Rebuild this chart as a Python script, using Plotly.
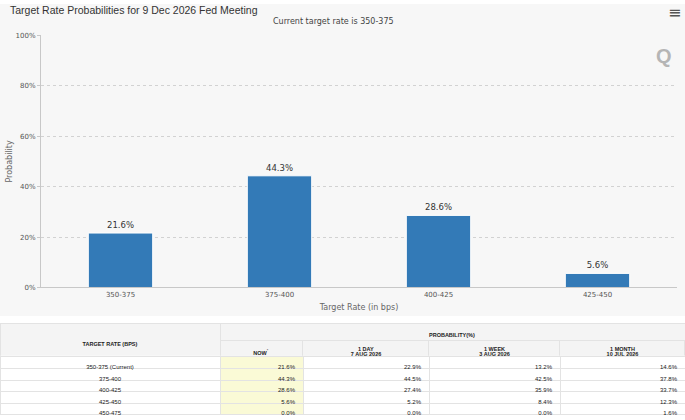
"""
Target rate probabilities chart with the probability table below it.
"""
import plotly.graph_objects as go

W, H = 685, 420

# Chart data
rates = ['350-375', '375-400', '400-425', '425-450']
probs = [21.6, 44.3, 28.6, 5.6]
y_ticks = [0, 20, 40, 60, 80, 100]

# Table data
tbl_rates = ['350-375 (Current)', '375-400', '400-425', '425-450', '450-475']
now_vals = ['21.6%', '44.3%', '28.6%', '5.6%', '0.0%']
day_vals = ['22.9%', '44.5%', '27.4%', '5.2%', '0.0%']
week_vals = ['13.2%', '42.5%', '35.9%', '8.4%', '0.0%']
month_vals = ['14.6%', '37.8%', '33.7%', '12.3%', '1.6%']
head_periods = ['1 DAY', '1 WEEK', '1 MONTH']
head_dates = ['7 AUG 2026', '3 AUG 2026', '10 JUL 2026']
col_widths = [220, 83, 126, 131, 125]

blue = 'rgb(51,122,183)'
hdr_fill = '#f4f4f4'
grid_line = '#e3e3e3'
clear = 'rgba(0,0,0,0)'
tfont = 'Liberation Sans'
row_h = 11.8


def px_x(v):
    return v / W


def px_y(v):
    # pixel from top -> paper fraction from bottom
    return (H - v) / H


def nb(s):
    # no-break spaces keep plotly tables from wrapping / growing rows
    return s.replace(' ', '\u00a0')


def hb(s):
    return '<b>' + nb(s) + '</b>'


def text_table(x0, x1, top, bottom, values, widths=None, height=17,
               align='center'):
    return go.Table(
        domain=dict(x=[px_x(x0), px_x(x1)], y=[px_y(bottom), px_y(top)]),
        columnwidth=widths,
        header=dict(values=values, fill_color=clear, line_color=clear,
                    height=height, align=align,
                    font=dict(size=5.5, color='#222', family=tfont)),
        cells=dict(values=[[] for _ in values], height=0))


fig = go.Figure()

fig.add_trace(go.Bar(x=rates, y=probs, width=0.405,
    marker=dict(color=blue, line=dict(color='white', width=1)),
    text=[str(p) + '%' for p in probs], textposition='outside',
    textfont=dict(size=8.5, color='#333', family='DejaVu Sans'),
    cliponaxis=False, showlegend=False))

# header boxes
fig.add_trace(go.Table(
    domain=dict(x=[0, 1], y=[px_y(359), px_y(326)]),
    columnwidth=[220, 465],
    header=dict(values=[nb(' '), nb(' ')], fill_color=hdr_fill,
                line_color=grid_line, height=33),
    cells=dict(values=[[], []], height=0)))
fig.add_trace(go.Table(
    domain=dict(x=[px_x(220), 1], y=[px_y(359), px_y(343)]),
    columnwidth=col_widths[1:],
    header=dict(values=[nb(' ')] * 4, fill_color=hdr_fill,
                line_color=grid_line, height=16),
    cells=dict(values=[[] for _ in range(4)], height=0)))

# header texts
fig.add_trace(text_table(0, 220, 335, 359, [hb('TARGET RATE (BPS)')]))
fig.add_trace(text_table(220, 685, 326, 343, [hb('PROBABILITY(%)')]))
fig.add_trace(text_table(220, 303, 344, 359, [hb('NOW') + '<sup>*</sup>']))
fig.add_trace(text_table(303, 685, 340, 357,
                         [hb(p) for p in head_periods], widths=col_widths[2:]))
fig.add_trace(text_table(303, 685, 346, 363,
                         [hb(d) for d in head_dates], widths=col_widths[2:]))

# body, one table strip per row, bottom row first so text stays on top
body_cols = [[nb(v) for v in tbl_rates], now_vals, day_vals, week_vals,
             month_vals]
body_fill = ['white', '#fafad6', 'white', 'white', 'white']
body_align = ['center', 'right', 'right', 'right', 'right']
for i in reversed(range(len(tbl_rates))):
    top = 359.5 + i * row_h
    fig.add_trace(go.Table(
        domain=dict(x=[0, 1], y=[max(0, px_y(top + row_h + 3)), px_y(top)]),
        columnwidth=col_widths,
        header=dict(values=[c[i] for c in body_cols], fill_color=body_fill,
                    line_color=grid_line, height=row_h, align=body_align,
                    font=dict(size=6, color='#222', family=tfont)),
        cells=dict(values=[[] for _ in body_cols], height=0)))

fig.update_layout(
    width=W, height=H,
    margin=dict(l=0, r=0, t=0, b=0),
    paper_bgcolor='white', plot_bgcolor='#f7f7f7',
    font=dict(family='DejaVu Sans', color='#666'),
    xaxis=dict(domain=[px_x(41), px_x(677)], showgrid=False,
               showline=True, linecolor='#c8c8c8', linewidth=1,
               tickfont=dict(size=7, color='#555'), ticks='',
               title=dict(text='Target Rate (in bps)', standoff=6,
                          font=dict(size=8, color='#666'))),
    yaxis=dict(domain=[px_y(289), px_y(32)], range=[0, 100],
               tickvals=y_ticks, ticktext=[str(v) + '%' for v in y_ticks],
               showgrid=True, gridcolor='#d2d2d2', griddash='dot',
               showline=True, linecolor='#c8c8c8', linewidth=1,
               ticks='outside', ticklen=3, tickcolor='#c8c8c8',
               tickfont=dict(size=7, color='#555'), zeroline=False,
               title=dict(text='Probability', standoff=1,
                          font=dict(size=8, color='#666'))),
    shapes=[dict(type='rect', xref='paper', yref='paper', layer='below',
                 x0=0, x1=1, y0=px_y(318), y1=1,
                 fillcolor='#f7f7f7', line_width=0)],
    annotations=[
        dict(text='Target Rate Probabilities for 9 Dec 2026 Fed Meeting',
             xref='paper', yref='paper', x=px_x(8), y=px_y(6),
             xanchor='left', yanchor='middle', showarrow=False,
             font=dict(size=10.5, color='#333', family='Liberation Sans')),
        dict(text='Current target rate is 350-375',
             xref='paper', yref='paper', x=px_x(333), y=px_y(18),
             xanchor='center', yanchor='middle', showarrow=False,
             font=dict(size=8, color='#444')),
        dict(text='≡', xref='paper', yref='paper', x=px_x(674), y=px_y(9),
             xanchor='center', yanchor='middle', showarrow=False,
             font=dict(size=16, color='#555')),
        dict(text='<b>Q</b>', xref='paper', yref='paper', x=px_x(664),
             y=px_y(53), xanchor='center', yanchor='middle', showarrow=False,
             font=dict(size=20, color='#b5b5b5', family='Liberation Sans')),
    ],
)

fig.write_html('out.html', config={'displayModeBar': False},
               post_script="document.body.style.margin='0';"
                           "document.body.style.overflow='hidden';")
